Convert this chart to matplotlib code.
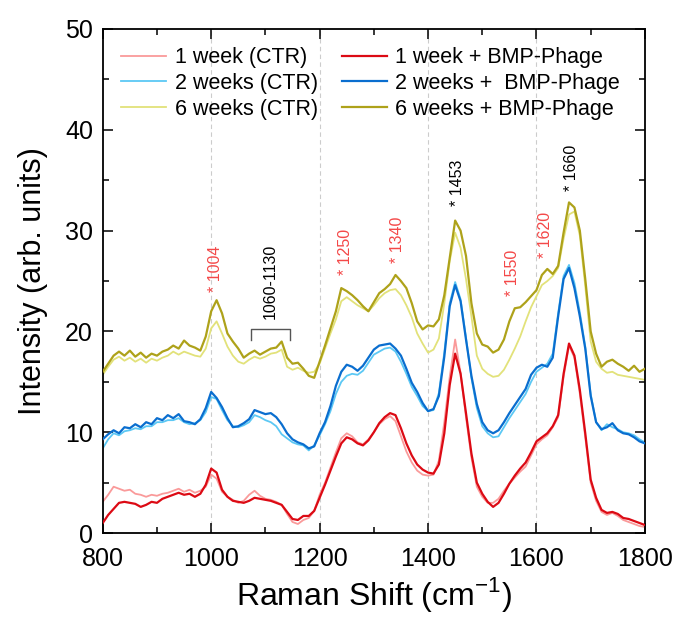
import numpy as np
import matplotlib
matplotlib.use('Agg')
import matplotlib.pyplot as plt
from matplotlib.ticker import MultipleLocator

plt.rcParams['font.family'] = ['Liberation Sans', 'DejaVu Sans']
plt.rcParams['mathtext.fontset'] = 'custom'
plt.rcParams['mathtext.rm'] = 'Liberation Sans'

# Raman shift axis (cm-1), 10 cm-1 step
shift = np.arange(800, 1801, 10)

wk1_ctr = [3.1, 3.8, 4.6, 4.4, 4.2, 4.3, 3.9, 3.8, 3.6, 3.8,
           3.7, 3.9, 4.0, 4.2, 4.4, 4.1, 4.3, 4.0, 4.2, 4.6,
           5.8, 5.4, 4.1, 3.6, 3.3, 3.0, 3.2, 3.8, 4.2, 3.7,
           3.4, 3.3, 3.1, 2.8, 1.9, 1.1, 0.9, 1.3, 1.5, 2.2,
           3.8, 5.0, 6.5, 8.0, 9.4, 9.9, 9.6, 9.0, 8.8, 9.3,
           10.0, 10.8, 11.3, 11.6, 11.1, 9.6, 8.1, 7.0, 6.2, 5.8,
           5.7, 5.8, 7.2, 11.0, 15.5, 19.2, 15.9, 11.5, 7.5, 4.6,
           3.6, 3.0, 3.0, 3.4, 4.2, 4.9, 5.5, 6.1, 6.6, 7.7,
           8.8, 9.3, 9.7, 10.5, 11.5, 15.5, 18.6, 17.4, 13.8, 9.5,
           5.0, 3.2, 2.1, 1.8, 2.0, 1.7, 1.3, 1.1, 0.9, 0.7, 0.6]
wk1_bmp = [1.0, 1.8, 2.4, 3.0, 3.1, 3.0, 2.9, 2.6, 2.8, 3.1,
           3.0, 3.4, 3.6, 3.8, 4.0, 3.8, 3.9, 3.6, 3.9, 4.8,
           6.4, 6.0, 4.3, 3.6, 3.2, 3.1, 3.0, 3.2, 3.5, 3.4,
           3.3, 3.2, 3.0, 2.8, 2.1, 1.4, 1.3, 1.7, 1.7, 2.2,
           3.5, 4.8, 6.2, 7.6, 8.9, 9.5, 9.3, 8.9, 8.7, 9.2,
           10.0, 10.9, 11.5, 11.9, 11.7, 10.4, 8.9, 7.7, 6.8, 6.3,
           6.0, 5.9, 6.8, 9.9, 14.7, 17.8, 15.8, 11.9, 7.9, 5.0,
           3.9, 3.1, 2.6, 3.0, 3.9, 4.9, 5.7, 6.4, 7.0, 8.0,
           9.1, 9.5, 9.9, 10.6, 11.7, 15.8, 18.8, 17.6, 14.2, 9.9,
           5.3, 3.5, 2.3, 2.0, 2.1, 1.9, 1.5, 1.4, 1.2, 1.0, 0.8]
wk2_ctr = [8.4, 9.3, 9.9, 9.7, 10.1, 10.2, 10.4, 10.3, 10.6, 10.6,
           11.0, 11.0, 11.2, 11.2, 11.4, 11.0, 10.8, 10.9, 11.2, 12.0,
           13.5, 13.3, 12.2, 11.2, 10.6, 10.5, 10.7, 11.0, 11.7, 11.5,
           11.2, 11.0, 10.6, 9.8, 9.4, 9.0, 8.8, 8.7, 8.2, 8.7,
           9.7, 10.8, 12.1, 13.8, 15.0, 15.6, 15.8, 15.7, 16.1, 16.9,
           17.7, 18.0, 18.3, 18.4, 18.0, 17.0, 15.8, 14.5, 13.6, 12.6,
           12.1, 12.2, 13.9, 17.9, 22.8, 24.9, 23.2, 19.4, 15.4, 12.4,
           10.6, 9.9, 9.5, 9.6, 10.5, 11.4, 12.2, 13.0, 13.8, 15.0,
           16.0, 16.4, 16.8, 17.8, 21.8, 25.5, 26.6, 24.8, 21.9, 18.5,
           13.8, 11.0, 10.2, 10.8, 10.5, 10.3, 10.0, 9.9, 9.7, 9.3, 9.0]
wk2_bmp = [9.3, 9.8, 10.2, 9.9, 10.5, 10.4, 10.8, 10.5, 11.0, 10.8,
           11.4, 11.2, 11.7, 11.4, 11.8, 11.1, 11.0, 10.8, 11.3, 12.4,
           14.0, 13.4, 12.5, 11.4, 10.5, 10.6, 10.9, 11.3, 12.2, 12.0,
           11.8, 11.9, 11.5, 10.8, 9.9, 9.3, 9.0, 8.8, 8.4, 8.6,
           9.9, 11.0, 12.6, 14.6, 16.0, 16.7, 16.5, 16.1, 16.6, 17.4,
           18.2, 18.6, 18.7, 18.8, 18.3, 17.6, 16.3, 14.9, 14.0, 12.9,
           12.1, 12.3, 13.6, 17.5, 22.5, 24.6, 23.0, 19.2, 15.6, 12.8,
           11.0, 10.2, 9.9, 10.2, 11.0, 11.9, 12.7, 13.5, 14.3, 15.7,
           16.4, 16.7, 16.5, 17.4, 21.5, 25.2, 26.3, 24.3, 21.5, 18.3,
           13.6, 11.0, 10.3, 10.5, 10.9, 10.2, 9.9, 9.8, 9.5, 9.1, 8.9]
wk6_ctr = [15.7, 16.5, 17.2, 17.5, 17.1, 17.4, 17.0, 17.3, 16.9, 17.3,
           17.1, 17.4, 17.6, 18.0, 17.7, 18.0, 17.8, 17.6, 17.5, 18.3,
           20.3, 21.0, 19.8, 18.5, 17.6, 17.0, 16.8, 17.2, 17.5, 17.3,
           17.5, 17.8, 17.9, 18.2, 16.5, 16.2, 16.4, 16.1, 15.9, 16.0,
           16.8, 18.3, 19.8, 21.2, 23.0, 23.4, 23.0, 22.6, 22.3, 22.0,
           22.6, 23.3, 23.8, 24.1, 24.2, 23.6, 22.6, 21.4, 19.8, 18.8,
           17.9, 18.2, 19.3, 22.8, 27.0, 29.8, 28.3, 25.2, 21.5, 17.6,
           16.3, 15.8, 15.5, 15.6, 16.2, 17.2, 18.3, 19.5, 21.0, 22.4,
           23.5, 24.6, 25.0, 25.5, 26.3, 29.2, 31.6, 31.9, 29.5, 24.5,
           19.0, 17.0, 16.3, 15.9, 16.0, 15.7, 15.6, 15.5, 15.4, 15.3, 15.2]
wk6_bmp = [16.0, 16.8, 17.6, 18.0, 17.6, 18.1, 17.5, 17.9, 17.4, 17.8,
           17.6, 18.0, 18.2, 18.6, 18.3, 19.1, 18.6, 18.4, 18.1, 19.5,
           22.0, 23.1, 21.8, 19.8, 19.0, 18.3, 17.4, 17.8, 18.1, 17.7,
           18.0, 18.3, 18.4, 19.0, 17.4, 16.8, 16.9, 16.3, 15.6, 15.4,
           17.0, 18.6, 20.3, 22.0, 24.3, 24.0, 23.6, 23.1, 22.5, 22.0,
           22.9, 23.8, 24.2, 24.7, 25.6, 25.0, 24.3, 22.8, 21.0, 20.2,
           20.6, 20.5, 21.2, 23.6, 27.3, 31.0, 30.0, 27.5, 22.8, 19.8,
           18.7, 18.5, 17.9, 18.2, 19.2, 21.0, 22.3, 22.4, 22.9, 23.5,
           24.1, 25.6, 26.2, 25.7, 26.5, 29.8, 32.8, 32.3, 30.0, 25.2,
           20.0, 17.8, 16.5, 17.0, 17.2, 16.8, 16.5, 16.1, 16.6, 16.0, 16.3]

series_labels = ['1 week (CTR)', '1 week + BMP-Phage',
                 '2 weeks (CTR)', '2 weeks +  BMP-Phage',
                 '6 weeks (CTR)', '6 weeks + BMP-Phage']
series_colors = ['#fa9a9a', '#dc0a14', '#5cc8f4', '#0a6ecf', '#e2e27a', '#aea21a']

# peak annotations: position, label, colour, y of the star
peak_x = [1008, 1248, 1344, 1455, 1555, 1617, 1664]
peak_txt = ['* 1004', '* 1250', '* 1340', '* 1453', '* 1550', '* 1620', '* 1660']
peak_y = [23.9, 25.6, 26.8, 32.4, 23.5, 27.3, 33.9]
peak_col = ['#f44848', '#f44848', '#f44848', 'black', '#f44848', '#f44848', 'black']

band_x = [1073, 1073, 1145, 1145]
band_y = [19.2, 20.2, 20.2, 19.2]
grid_x = [1000, 1200, 1400, 1600]

fig = plt.figure(figsize=(6.76, 6.17), dpi=100)
ax = fig.add_axes([0.152, 0.136, 0.802, 0.817])

for gx in grid_x:
    ax.axvline(gx, color='#cccccc', lw=0.8, ls=(0, (4, 3)), zorder=0)

data = [wk1_ctr, wk1_bmp, wk2_ctr, wk2_bmp, wk6_ctr, wk6_bmp]
lines = []
for i, (y, lab, c) in enumerate(zip(data, series_labels, series_colors)):
    lw = 1.3 if i % 2 == 0 else 1.6
    ln, = ax.plot(shift, y, color=c, lw=lw, label=lab, zorder=2 + i % 2)
    lines.append(ln)

for px, t, py, c in zip(peak_x, peak_txt, peak_y, peak_col):
    ax.text(px, py, t, rotation=90, ha='center', va='bottom', color=c, fontsize=11.5)

ax.plot(band_x, band_y, color='#555555', lw=1.0)
ax.text(1109, 21.2, '1060-1130', rotation=90, ha='center', va='bottom', color='black', fontsize=11.5)

ax.set_xlim(800, 1800)
ax.set_ylim(0, 50)
ax.xaxis.set_major_locator(MultipleLocator(200))
ax.xaxis.set_minor_locator(MultipleLocator(100))
ax.yaxis.set_major_locator(MultipleLocator(10))
ax.yaxis.set_minor_locator(MultipleLocator(5))
ax.tick_params(which='both', direction='in', top=True, right=True, width=1.1)
ax.tick_params(which='major', length=7, labelsize=18)
ax.tick_params(which='minor', length=4)
ax.tick_params(axis='x', which='major', pad=10)
ax.tick_params(axis='y', which='major', pad=7)
for s in ax.spines.values():
    s.set_linewidth(1.3)

ax.set_xlabel(r'Raman Shift (cm$^{\mathregular{-1}}$)', fontsize=23, labelpad=3)
ax.set_ylabel('Intensity (arb. units)', fontsize=22, labelpad=12)

# column-wise order: CTR on the left, BMP-Phage on the right
order = [0, 2, 4, 1, 3, 5]
ax.legend([lines[k] for k in order], [series_labels[k] for k in order],
          ncol=2, loc='upper left', bbox_to_anchor=(0.0, 1.0), frameon=False,
          fontsize=15.5, handlelength=2.1, handletextpad=0.4, columnspacing=1.1,
          labelspacing=0.22, borderaxespad=0.45)

fig.savefig('out.png', dpi=100)
